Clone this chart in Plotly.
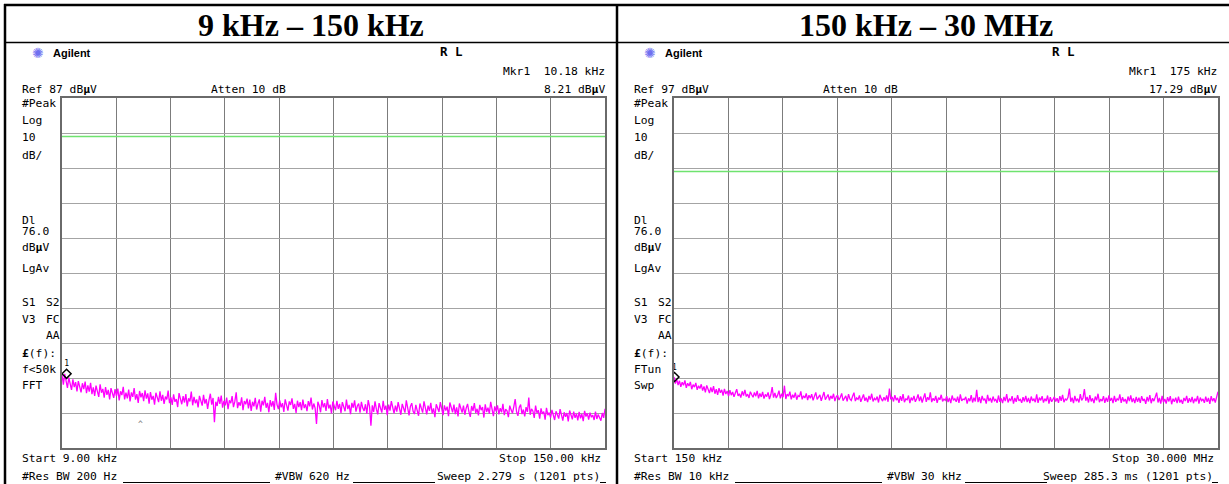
import numpy as np
import plotly.graph_objects as go

W, H = 1229, 484

# ---------------- data ----------------
LEFT_TITLE = "9 kHz – 150 kHz"
RIGHT_TITLE = "150 kHz – 30 MHz"

LEFT_START_KHZ, LEFT_STOP_KHZ = 9.0, 150.0
RIGHT_START_MHZ, RIGHT_STOP_MHZ = 0.15, 30.0
LEFT_REF_DBUV = 87
RIGHT_REF_DBUV = 97
DB_PER_DIV = 10
DISPLAY_LINE_DBUV = 76.0
LEFT_MARKER = (10.18, 8.21)      # kHz, dBuV
RIGHT_MARKER = (0.175, 17.29)    # MHz, dBuV

LEFT_DBUV = [
    7.9, 5.1, 8.2, 6.4, 4.2, 7.1, 5.0, 3.6, 6.6, 4.4, 5.8, 3.2, 6.1, 4.7, 2.9, 5.5, 3.8, 6.0, 2.7, 4.9,
    3.1, 5.6, 2.4, 4.3, 1.9, 4.8, 3.3, 1.6, 5.2, 2.8, 3.9, 1.4, 4.4, 2.2, 3.6, 0.9, 4.1, 2.5, 1.3, 3.8,
    1.8, 4.0, 0.6, 3.2, 2.1, 4.5, 0.9, 2.8, 1.2, 3.7, 0.3, 2.9, 1.6, 4.1, 0.8, 2.4, -0.1, 3.3, 1.5, 2.7,
    0.4, 3.5, 1.1, 2.6, -0.3, 3.0, 0.8, 1.9, -0.6, 2.8, 1.4, 0.1, 3.2, 0.5, 2.2, -0.4, 1.7, 0.9, 3.4, -0.2,
    1.5, -0.7, 2.3, 0.2, 1.0, -1.3, 2.7, 0.6, -0.5, 1.8, 0.0, 2.4, -1.1, 1.2, 0.3, 3.1, -0.8, 1.6, -0.2, 0.9,
    -1.4, 1.9, 0.4, -0.9, 2.2, -0.3, 1.0, -1.8, 0.7, 2.5, -0.6, 1.3, -5.6, 0.2, -1.0, 1.6, -0.4, 2.0, -1.5, 0.5,
    -0.8, 1.4, -1.9, 0.6, -0.2, 1.8, -1.3, 0.3, 2.9, -1.6, 0.1, -0.9, 1.5, -2.2, 0.4, -0.5, 1.1, -1.7, 0.8, -2.4,
    0.2, -1.1, 1.3, -2.0, -0.3, 0.9, -2.6, 0.5, -0.8, 1.6, -1.5, -0.1, -2.8, 0.7, -1.2, 0.4, -2.1, 2.8, -0.6, -1.9,
    0.6, -1.4, -0.2, -2.7, 0.9, -1.0, -2.3, 0.3, -0.7, 1.2, -1.8, -0.4, -3.0, 0.5, -1.3, 0.1, -2.2, 0.8, -1.6, -0.5,
    -2.5, 0.4, -1.1, 1.4, -2.0, -0.3, -1.6, -6.1, 0.2, -0.9, -2.8, 0.7, -1.4, -0.2, -2.4, 1.0, -1.7, -0.6, -3.1, 0.3,
    -1.0, -2.2, 0.5, -1.8, -0.4, -3.0, 0.1, -1.3, -2.5, 0.8, -1.9, -0.7, -3.3, -0.1, -1.5, 0.6, -2.6, -1.0, -0.3, -2.9,
    0.2, -1.6, -2.4, -0.5, -3.2, 0.7, -1.2, -6.6, -0.8, -2.7, 0.3, -1.9, -3.4, -0.2, -1.4, -2.9, 0.5, -2.1, -0.9, -3.6,
    -0.6, -2.3, 0.4, -1.7, -3.1, -0.9, -2.6, 0.1, -1.4, -3.5, -0.4, -2.0, -2.9, 0.6, -1.8, -3.7, -1.1, -0.2, -2.5, -3.3,
    -0.7, -2.2, -3.8, -0.3, -1.6, -2.9, 0.3, -1.3, -3.4, -0.9, -2.4, -0.1, -3.1, -1.7, -4.2, -0.5, -2.0, -2.7, 0.1, -1.5,
    -3.6, -0.8, -2.3, -1.2, -3.9, 0.0, -1.9, -2.8, -0.6, -3.3, -1.4, -4.0, -0.3, -2.1, -2.9, -0.9, -3.5, -1.6, -0.4, -2.6,
    -4.1, -1.0, -2.4, -0.2, -3.0, -1.8, -3.7, -0.7, -2.2, -1.3, -4.3, -0.5, -2.7, -1.5, -3.2, 0.2, -2.0, -3.9, -1.1, -2.5,
    -0.8, -3.4, -1.6, -2.8, -0.4, -3.6, -1.9, -2.4, -4.2, -0.9, -2.1, -3.1, -1.2, 1.0, -2.6, -3.8, -1.4, -0.6, -3.3, -2.0,
    -4.0, -1.3, -2.7, 1.4, -3.5, -1.8, -2.4, -4.4, -0.9, -3.0, -2.2, -4.6, -1.7, -3.3, -2.6, -4.9, -1.5, -3.6, -2.9, -4.3,
    -2.1, -3.9, -5.0, -2.5, -3.4, -4.6, -1.9, -3.8, -5.2, -2.8, -4.1, -3.0, -5.4, -2.3, -3.7, -4.8, -2.6, -4.4, -3.2, -5.1,
    -2.7, -4.5, -3.3, -5.3, -2.4, -4.0, -3.1, -4.9, -2.9, -4.2, -3.6, -5.0, -2.6, -4.7, -3.4, -4.1, -5.2, -3.0, -4.4, -1.8,
]

RIGHT_DBUV = [
    17.3, 15.4, 16.6, 15.0, 16.2, 14.5, 15.8, 14.9, 16.3, 14.2, 15.5, 14.7, 15.9, 13.8, 15.1, 14.4, 15.6, 13.6, 14.8, 14.0,
    15.2, 13.4, 14.6, 12.9, 14.9, 13.5, 12.7, 14.3, 13.0, 14.7, 12.5, 13.8, 12.2, 14.1, 12.8, 13.6, 12.0, 13.9, 12.4, 13.3,
    11.8, 13.5, 12.1, 13.0, 11.6, 12.7, 13.8, 11.9, 12.5, 11.4, 13.2, 12.0, 13.6, 11.7, 12.4, 11.3, 13.1, 12.2, 11.5, 12.9,
    11.8, 13.3, 11.2, 12.6, 11.6, 13.0, 11.1, 12.3, 11.7, 12.9, 11.0, 12.2, 14.4, 11.4, 12.7, 11.3, 12.1, 13.4, 11.2, 12.5,
    11.5, 14.8, 11.0, 12.4, 11.8, 13.1, 10.9, 12.2, 11.4, 12.8, 10.8, 12.0, 11.6, 13.2, 10.9, 11.9, 11.3, 12.6, 10.7, 12.1,
    11.2, 12.4, 10.6, 11.8, 12.9, 10.9, 11.5, 12.2, 10.5, 11.7, 13.0, 10.8, 11.4, 12.3, 10.6, 11.9, 11.1, 12.5, 10.4, 11.6,
    12.1, 10.7, 11.5, 12.6, 10.5, 11.2, 11.9, 10.3, 12.4, 11.0, 10.6, 11.8, 12.8, 10.4, 11.3, 10.9, 12.0, 10.2, 11.6, 12.3,
    10.5, 11.4, 10.1, 11.9, 10.8, 12.5, 10.3, 11.2, 10.7, 11.7, 10.0, 12.2, 11.1, 10.4, 11.5, 10.6, 12.0, 10.2, 14.0, 10.9,
    11.6, 10.3, 12.1, 10.7, 11.3, 9.9, 11.8, 10.5, 12.4, 10.1, 11.0, 10.8, 12.0, 9.8, 11.4, 10.6, 11.9, 10.2, 11.1, 12.3,
    10.4, 11.7, 10.0, 11.3, 12.6, 10.2, 11.5, 10.7, 12.9, 10.1, 11.2, 10.5, 11.9, 9.9, 11.4, 10.8, 12.2, 10.3, 11.0, 10.6,
    11.8, 10.1, 11.3, 9.8, 12.0, 10.6, 11.1, 10.2, 11.7, 9.9, 12.3, 10.5, 11.0, 10.8, 11.6, 9.7, 11.2, 10.4, 12.1, 10.0,
    11.4, 10.3, 13.6, 10.1, 11.5, 9.8, 11.9, 10.6, 11.1, 9.7, 12.2, 10.4, 11.3, 10.0, 11.7, 10.5, 10.9, 9.9, 12.0, 10.2,
    11.2, 9.8, 11.6, 10.4, 12.4, 10.0, 11.0, 10.6, 11.8, 9.7, 11.3, 10.2, 12.1, 10.5, 10.9, 9.9, 11.5, 10.3, 11.9, 10.1,
    11.3, 9.8, 11.7, 10.5, 11.0, 10.1, 12.3, 9.9, 11.4, 10.6, 11.8, 10.0, 11.1, 10.4, 12.0, 9.7, 11.5, 10.2, 10.9, 11.6,
    10.3, 11.2, 9.9, 11.8, 10.5, 12.2, 10.1, 11.0, 10.7, 11.5, 14.0, 10.2, 11.4, 9.8, 11.9, 10.4, 11.1, 10.0, 12.4, 10.6,
    11.3, 13.8, 10.5, 11.6, 10.0, 12.1, 10.3, 11.2, 9.8, 11.7, 10.6, 12.5, 10.1, 11.0, 10.4, 11.8, 9.9, 11.4, 10.2, 12.0,
    10.5, 11.3, 9.8, 11.9, 10.2, 11.1, 10.6, 12.3, 9.9, 11.5, 10.3, 11.0, 9.7, 11.7, 10.4, 12.0, 10.1, 11.2, 9.8, 11.6,
    10.2, 11.4, 9.9, 11.8, 10.5, 11.0, 9.6, 11.6, 10.3, 12.1, 9.8, 11.2, 10.4, 11.5, 12.8, 10.0, 11.3, 9.7, 11.9, 10.1,
    11.0, 9.7, 11.5, 10.3, 11.8, 9.5, 11.1, 10.2, 11.4, 9.8, 11.7, 10.0, 10.8, 9.6, 11.3, 10.4, 11.9, 9.9, 11.2, 10.1,
    11.6, 9.8, 11.1, 10.3, 11.9, 9.7, 11.4, 10.5, 11.0, 9.9, 11.7, 10.2, 11.3, 9.6, 11.8, 10.4, 11.2, 10.0, 12.0, 13.1,
]

LEFT_TEXT = dict(
    ref="Ref 87 dB<b>μ</b>V", atten="Atten 10 dB", mkr="Mkr1  10.18 kHz",
    mkrval="8.21 dB<b>μ</b>V", func=["f<50k", "FFT"],
    start="Start 9.00 kHz", stop="Stop 150.00 kHz", rbw="#Res BW 200 Hz",
    vbw="#VBW 620 Hz", sweep="Sweep 2.279 s (1201 pts)",
)
RIGHT_TEXT = dict(
    ref="Ref 97 dB<b>μ</b>V", atten="Atten 10 dB", mkr="Mkr1  175 kHz",
    mkrval="17.29 dB<b>μ</b>V", func=["FTun", "Swp"],
    start="Start 150 kHz", stop="Stop 30.000 MHz", rbw="#Res BW 10 kHz",
    vbw="#VBW 30 kHz", sweep="Sweep 285.3 ms (1201 pts)",
)

# ---------------- figure ----------------
MONO = "DejaVu Sans Mono"
SERIF = "Liberation Serif"
SANS = "Liberation Sans"
FS = 11.3

fig = go.Figure()
annotations = []
shapes = []


def px(x):
    return x / W


def py(y):
    return 1 - y / H


def ann(x, y, text, xanchor="left", size=FS, color="black", family=MONO):
    annotations.append(dict(
        x=px(x), y=py(y), xref="paper", yref="paper", text=text,
        showarrow=False, xanchor=xanchor, yanchor="middle",
        font=dict(family=family, size=size, color=color),
        borderpad=0,
    ))


def hline(x0, x1, y, width=1, color="black"):
    shapes.append(dict(type="line", xref="paper", yref="paper",
                       x0=px(x0), x1=px(x1), y0=py(y), y1=py(y),
                       line=dict(color=color, width=width)))


def vline(x, y0, y1, width=1, color="black"):
    shapes.append(dict(type="line", xref="paper", yref="paper",
                       x0=px(x), x1=px(x), y0=py(y0), y1=py(y1),
                       line=dict(color=color, width=width)))


panels = [
    dict(dx=0, start=LEFT_START_KHZ, stop=LEFT_STOP_KHZ, ref=LEFT_REF_DBUV,
         vals=LEFT_DBUV, mk=LEFT_MARKER, txt=LEFT_TEXT, title=LEFT_TITLE,
         xa="x", ya="y", gx0=62, gx1=605, tx=311),
    dict(dx=612, start=RIGHT_START_MHZ, stop=RIGHT_STOP_MHZ, ref=RIGHT_REF_DBUV,
         vals=RIGHT_DBUV, mk=RIGHT_MARKER, txt=RIGHT_TEXT, title=RIGHT_TITLE,
         xa="x2", ya="y2", gx0=674, gx1=1218, tx=926),
]

GY0, GY1 = 98, 448
layout_axes = {}
for i, p in enumerate(panels):
    freqs = np.linspace(p["start"], p["stop"], len(p["vals"]))
    fig.add_trace(go.Scatter(
        x=freqs, y=p["vals"], mode="lines", xaxis=p["xa"], yaxis=p["ya"],
        line=dict(color="#ff00ff", width=1.3), hoverinfo="skip", showlegend=False))
    fig.add_trace(go.Scatter(
        x=[p["start"], p["stop"]], y=[DISPLAY_LINE_DBUV] * 2, mode="lines",
        xaxis=p["xa"], yaxis=p["ya"], line=dict(color="#6fe36f", width=1.6),
        hoverinfo="skip", showlegend=False))
    fig.add_trace(go.Scatter(
        x=[p["mk"][0]], y=[p["mk"][1]], mode="markers+text", text=["1"],
        textposition="top center", textfont=dict(family=MONO, size=8, color="black"),
        xaxis=p["xa"], yaxis=p["ya"],
        marker=dict(symbol="diamond-open", size=7, color="black", line=dict(width=1.5)),
        hoverinfo="skip", showlegend=False))

    sfx = "" if i == 0 else "2"
    layout_axes["xaxis" + sfx] = dict(
        domain=[px(p["gx0"]), px(p["gx1"])], range=[p["start"], p["stop"]],
        tick0=p["start"], dtick=(p["stop"] - p["start"]) / 10,
        showgrid=True, gridcolor="#7c7c7c", gridwidth=1, showticklabels=False,
        ticks="", zeroline=False, showline=True, linecolor="#6a6a6a",
        linewidth=2, mirror=True, anchor="y" + sfx, fixedrange=True)
    bottom = p["ref"] - 10 * DB_PER_DIV
    layout_axes["yaxis" + sfx] = dict(
        domain=[py(GY1), py(GY0)], range=[bottom, p["ref"]],
        tick0=bottom, dtick=DB_PER_DIV, showgrid=True, gridcolor="#a4a4a4",
        gridwidth=1, showticklabels=False, ticks="", zeroline=False,
        showline=True, linecolor="#6a6a6a", linewidth=2, mirror=True,
        anchor="x" + sfx, fixedrange=True)

    d = p["dx"]
    t = p["txt"]
    e = 1 if i else 0
    # header title
    ann(p["tx"], 25, "<b>%s</b>" % p["title"], xanchor="center", size=32,
        family=SERIF)
    # instrument header
    ann(31 + d, 53, "✺", size=14, color="#7070f0", family="DejaVu Sans")
    ann(52 + d, 53, "<b>Agilent</b>", size=11, family=SANS)
    ann(451 + d, 52, "<b>R L</b>", xanchor="center", size=12.5, family=MONO)
    ann(606 + d, 72, t["mkr"], xanchor="right")
    ann(606 + d, 89, t["mkrval"], xanchor="right")
    ann(21 + d, 89, t["ref"])
    ann(210 + d, 89, t["atten"])
    # left column labels
    for y, s in [(103, "#Peak"), (120, "Log"), (137, "10"), (155, "dB/"),
                 (220, "Dl"), (231, "76.0"), (248, "dB<b>μ</b>V"),
                 (268, "LgAv"), (302, "S1"), (319, "V3"),
                 (353, "<b>£</b>(f):"), (369, t["func"][0]), (385, t["func"][1])]:
        ann(21 + d, y, s)
    ann(61 + d, 302, "S2", xanchor="right")
    ann(61 + d, 319, "FC", xanchor="right")
    ann(61 + d, 335, "AA", xanchor="right")
    # bottom
    ann(21 + d, 458, t["start"])
    ann(602 + d + e, 458, t["stop"], xanchor="right")
    ann(21 + d, 476, t["rbw"])
    ann(274 + d, 476, t["vbw"])
    ann(601 + d + e, 476, t["sweep"], xanchor="right")

# small caret in the left screen
ann(140, 424, "^", xanchor="center", size=8, color="#777777")

# table borders
hline(4, W, 5, width=2.5)
hline(4, W, 42.5, width=1.5)
vline(5, 4, H, width=2.5)
vline(617, 4, H, width=2.5)
# underscores of the instrument's bottom status line
for a, b in [(123, 270), (353, 435), (600, 606)]:
    hline(a, b, 482.5, width=1)
    hline(a + 612, b + 612, 482.5, width=1)

fig.update_layout(
    width=W, height=H, margin=dict(l=0, r=0, t=0, b=0, pad=0),
    paper_bgcolor="white", plot_bgcolor="white",
    annotations=annotations, shapes=shapes, showlegend=False,
    **layout_axes,
)

fig.write_html(
    "out.html",
    config={"displayModeBar": False},
    post_script="document.body.style.margin='0px';document.body.style.overflow='hidden';",
)
